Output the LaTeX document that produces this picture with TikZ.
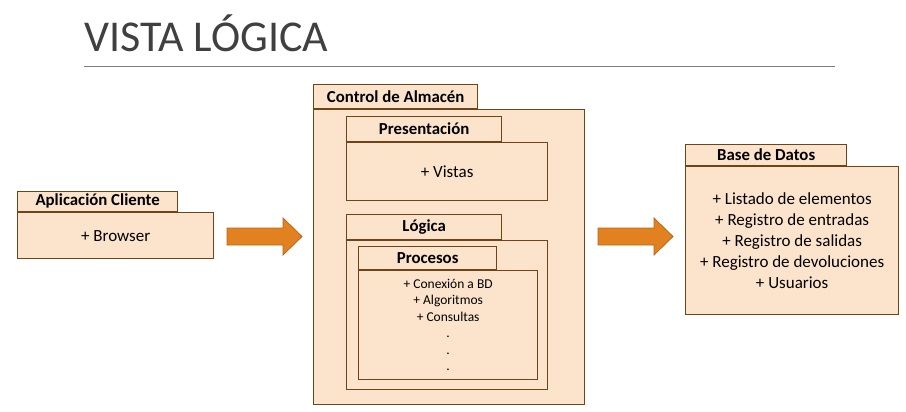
\documentclass[tikz,border=0pt]{standalone}
\usepackage{fontspec}
\setmainfont{Carlito}
\usetikzlibrary{positioning}
\definecolor{fondo}{HTML}{FCE4CC}
\definecolor{borde}{HTML}{6E4419}
\definecolor{naranja}{HTML}{E2811F}
\definecolor{bordenaranja}{HTML}{B8661A}
\definecolor{gristitulo}{HTML}{404040}
\definecolor{grislinea}{HTML}{808080}

\begin{document}
\begin{tikzpicture}[x=1pt,y=-1pt,line width=1.3pt]
  \tikzstyle{cuerpo}=[draw=borde,fill=fondo,anchor=north west,inner sep=0pt,align=center,
                      font=\fontsize{17}{21}\selectfont]
  \tikzstyle{pestana}=[draw=borde,fill=fondo,anchor=south west,inner sep=0pt,
                       font=\bfseries\fontsize{16.8}{18}\selectfont]
  \tikzstyle{flecha}=[fill=naranja,draw=bordenaranja,line width=0.8pt]

  \useasboundingbox (0,0) rectangle (906,412);

  % titulo
  \node[anchor=base west,inner sep=0pt,text=gristitulo,font=\fontsize{44}{44}\selectfont]
        (titulo) at (84,52) {VISTA LÓGICA};
  \draw[grislinea,line width=1pt] (84,67) -- (835,67);

  % aplicacion cliente
  \node[cuerpo,minimum width=196pt,minimum height=46pt] (cliente) at (17,212) {+ Browser};
  \node[pestana,minimum width=160pt,minimum height=20pt] (clienteTab) at (cliente.north west)
        {Aplicación Cliente};

  % control de almacen
  \node[cuerpo,minimum width=271pt,minimum height=295pt] (control) at (313,109) {};
  \node[pestana,minimum width=164pt,minimum height=24pt] (controlTab) at (control.north west)
        {Control de Almacén};

  \node[cuerpo,minimum width=201pt,minimum height=58pt] (presentacion) at (346,142) {+ Vistas};
  \node[pestana,minimum width=155pt,minimum height=25pt] (presentacionTab)
        at (presentacion.north west) {Presentación};

  \node[cuerpo,minimum width=201pt,minimum height=149pt] (logica) at (346,240) {};
  \node[pestana,minimum width=155pt,minimum height=25pt] (logicaTab) at (logica.north west)
        {Lógica};

  \node[cuerpo,minimum width=179pt,minimum height=109pt,font=\fontsize{13.5}{16.5}\selectfont]
        (procesos) at (358,270)
        {+ Conexión a BD\\+ Algoritmos\\+ Consultas\\.\\.\\.};
  \node[pestana,minimum width=138pt,minimum height=23pt] (procesosTab) at (procesos.north west)
        {Procesos};

  % base de datos
  \node[cuerpo,minimum width=213pt,minimum height=148pt] (datos) at (685,166)
        {+ Listado de elementos\\+ Registro de entradas\\+ Registro de salidas\\
         + Registro de devoluciones\\+ Usuarios};
  \node[pestana,minimum width=161pt,minimum height=21pt] (datosTab) at (datos.north west)
        {Base de Datos};

  % flechas
  \foreach \x in {227,598}
    \filldraw[flecha] (\x,228) -- ++(56,0) -- ++(0,-10) -- ++(19,18.5) -- ++(-19,18.5)
                      -- ++(0,-10) -- ++(-56,0) -- cycle;
\end{tikzpicture}
\end{document}
